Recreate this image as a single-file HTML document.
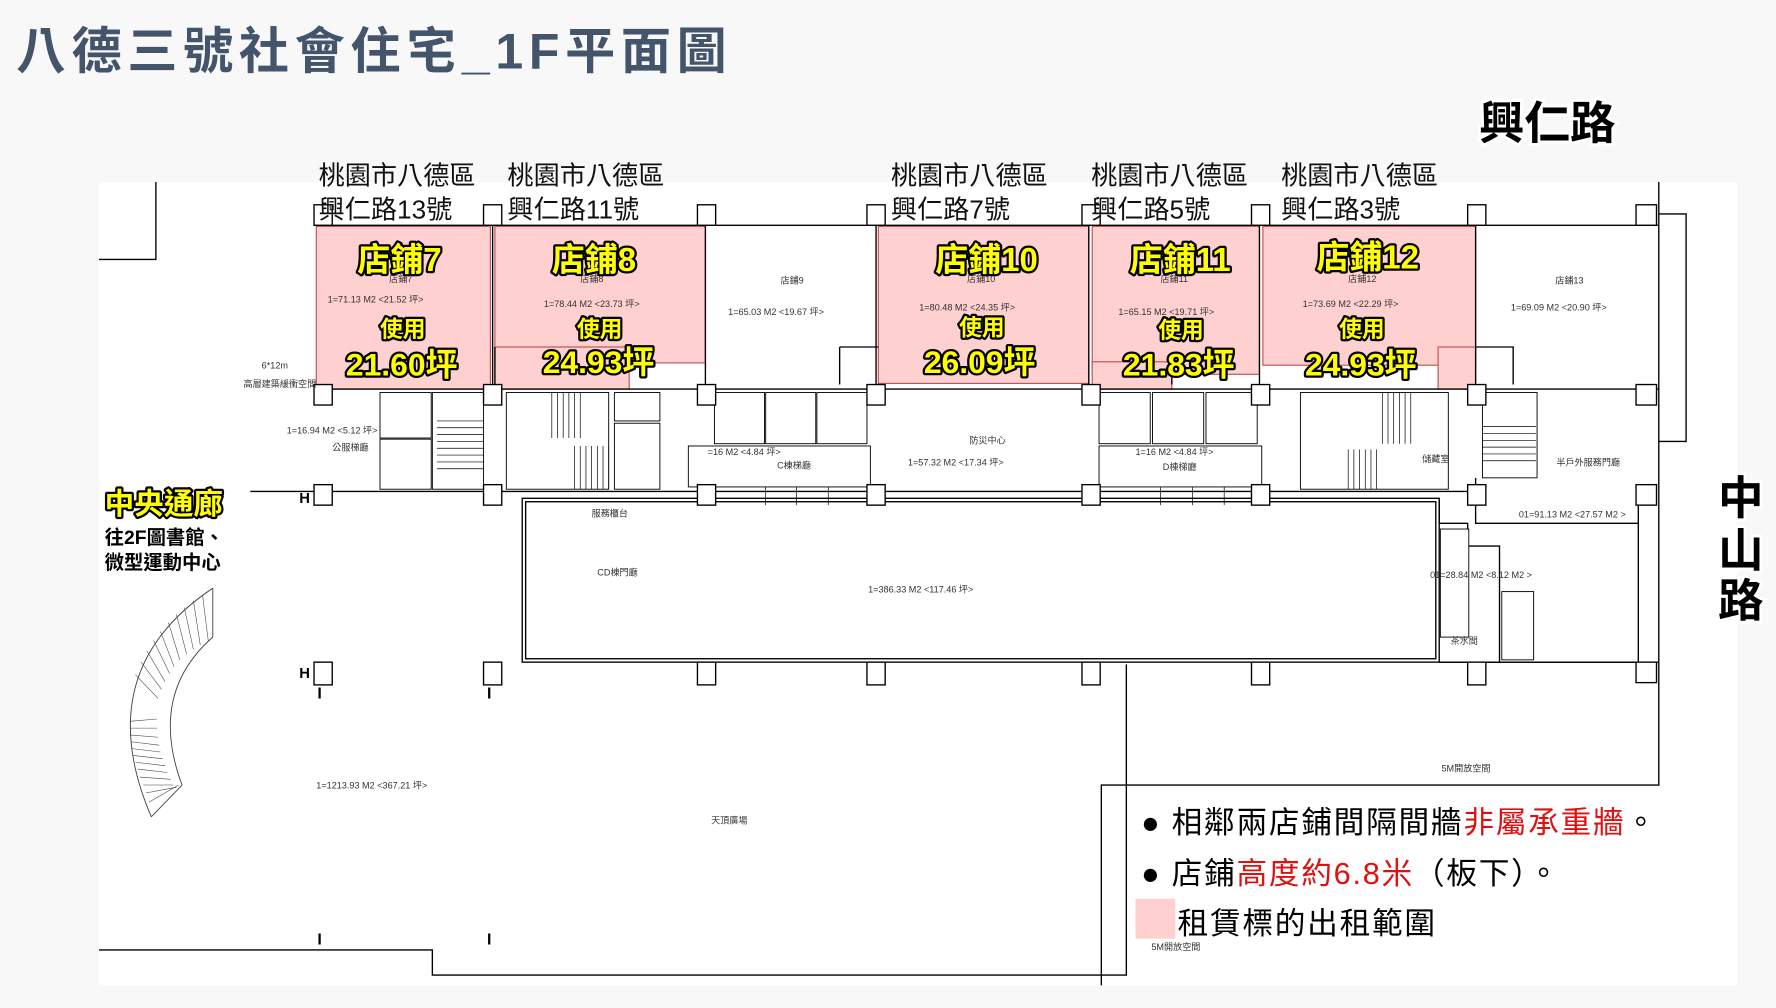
<!DOCTYPE html>
<html><head><meta charset="utf-8"><style>
html,body{margin:0;padding:0;background:#f8f8f8;}
svg{display:block}
.t{font-family:"Liberation Sans","Noto Sans CJK TC",sans-serif}
.y{font-family:"Liberation Sans","Noto Sans CJK TC",sans-serif;font-weight:bold;fill:#ffff00;stroke:#000;stroke-width:4;paint-order:stroke;stroke-linejoin:round}
.s{font-family:"Liberation Sans","Noto Sans CJK TC",sans-serif;font-size:8px;fill:#333}
</style></head><body>
<svg width="1776" height="1008" viewBox="0 0 1561 886" xmlns="http://www.w3.org/2000/svg">
<rect width="1561" height="886" fill="#f8f8f8"/>
<text x="14" y="60" class="t" font-size="44" font-weight="bold" fill="#44546a" letter-spacing="5">八德三號社會住宅_1F平面圖</text>
<rect x="87" y="160" width="1440" height="706" fill="#fff"/>
<g fill="#ffd0d0" stroke="#c0504d" stroke-width="1">
<rect x="278" y="199" width="153" height="143"/>
<rect x="435" y="199" width="185" height="120"/>
<rect x="435" y="305" width="118" height="37"/>
<rect x="772" y="199" width="185" height="138"/>
<rect x="960" y="199" width="147" height="130"/>
<rect x="960" y="318" width="70" height="24"/>
<rect x="1110" y="199" width="187" height="122"/>
<rect x="1264" y="305" width="33" height="37"/>
</g>
<g fill="none" stroke="#000" stroke-width="1.2">
<path d="M137 160V228H87"/>
<path d="M276 198H1458"/>
<path d="M1458 160V690H968V866"/>
<path d="M990 584V857H380V835H87"/>
<path d="M1458 188H1482V388H1458"/>
<path d="M620 198V338M770 198V338M957 198V338M1107 198V338M1297 198V338M433 198V342"/>
<path d="M276 342H1458M276 432H1297"/>
<rect x="459" y="438" width="806" height="144"/>
<rect x="462" y="441" width="800" height="138"/>
<path d="M1265 438V460H1290V480H1318V582H1265"/>
<path d="M1297 420V460H1440M1440 432V582H1265"/>
<path d="M1297 582H1458"/>
<path d="M738 305V338M738 305H772M1297 305H1330V338M1030 318V338M435 305V338"/>
<path d="M220 432H276"/>
</g>
<g fill="#fff" stroke="#000" stroke-width="0.8">
<rect x="334" y="345" width="45" height="40"/><rect x="334" y="386" width="45" height="44"/>
<rect x="380" y="345" width="45" height="85"/>
<rect x="445" y="345" width="90" height="85"/><rect x="540" y="345" width="40" height="25"/><rect x="540" y="372" width="40" height="58"/>
<rect x="628" y="345" width="44" height="45"/><rect x="673" y="345" width="44" height="45"/><rect x="718" y="345" width="44" height="45"/>
<rect x="605" y="392" width="160" height="36"/>
<rect x="966" y="345" width="45" height="45"/><rect x="1013" y="345" width="45" height="45"/><rect x="1060" y="345" width="45" height="45"/>
<rect x="966" y="392" width="143" height="36"/>
<rect x="1143" y="345" width="130" height="85"/><rect x="1303" y="345" width="48" height="75"/>
<rect x="1266" y="465" width="25" height="95"/><rect x="1320" y="520" width="28" height="60"/>
</g>
<g stroke="#000" stroke-width="0.6">
<path d="M384 370H425M384 376H425M384 382H425M384 388H425M384 394H425M384 400H425M384 406H425M384 412H425"/>
<path d="M485 345V385M490 345V385M495 345V385M500 345V385M505 345V385M510 345V385M505 392V430M510 392V430M515 392V430M520 392V430M525 392V430M530 392V430M535 392V430"/>
<path d="M1215 345V390M1220 345V390M1225 345V390M1230 345V390M1235 345V390M1240 345V390M1185 395V430M1190 395V430M1195 395V430M1200 395V430M1205 395V430M1210 395V430"/>
<path d="M1303 375H1350M1303 381H1350M1303 387H1350M1303 393H1350M1303 399H1350M1303 405H1350"/>
<path d="M673 428V444M700 428V444M728 428V444M1020 428V444M1048 428V444M1076 428V444"/>
</g>
<g fill="#fff" stroke="#000" stroke-width="1.2">
<rect x="276" y="180" width="16" height="18"/><rect x="425" y="180" width="16" height="18"/><rect x="613" y="180" width="16" height="18"/><rect x="762" y="180" width="16" height="18"/><rect x="951" y="180" width="16" height="18"/><rect x="1100" y="180" width="16" height="18"/><rect x="1290" y="180" width="16" height="18"/><rect x="1438" y="180" width="18" height="18"/>
<rect x="276" y="338" width="16" height="18"/><rect x="425" y="338" width="16" height="18"/><rect x="613" y="338" width="16" height="18"/><rect x="762" y="338" width="16" height="18"/><rect x="951" y="338" width="16" height="18"/><rect x="1100" y="338" width="16" height="18"/><rect x="1290" y="338" width="16" height="18"/><rect x="1438" y="338" width="18" height="18"/>
<rect x="276" y="426" width="16" height="18"/><rect x="425" y="426" width="16" height="18"/><rect x="613" y="426" width="16" height="18"/><rect x="762" y="426" width="16" height="18"/><rect x="951" y="426" width="16" height="18"/><rect x="1100" y="426" width="16" height="18"/><rect x="1290" y="426" width="16" height="18"/><rect x="1438" y="426" width="18" height="18"/>
<rect x="276" y="582" width="16" height="20"/><rect x="425" y="582" width="16" height="20"/><rect x="613" y="582" width="16" height="20"/><rect x="762" y="582" width="16" height="20"/><rect x="951" y="582" width="16" height="20"/><rect x="1100" y="582" width="16" height="20"/><rect x="1290" y="582" width="16" height="20"/><rect x="1438" y="582" width="18" height="18"/>
</g>
<g class="t" font-size="13" font-weight="bold"><text x="263" y="442">H</text><text x="263" y="596">H</text></g>
<g class="t" font-size="14" font-weight="bold"><text x="279" y="614">I</text><text x="428" y="614">I</text><text x="279" y="830">I</text><text x="428" y="830">I</text></g>
<g fill="none" stroke="#444" stroke-width="0.8">
<path d="M187 517 Q78 590 133 718"/>
<path d="M187 560 Q130 610 160 690"/>
<path d="M187 517V560M133 718L160 690"/>
<g stroke-width="0.5"><path d="M178 523L183 563M170 528L176 567M162 534L170 571M155 540L164 575M148 547L158 580M141 555L153 586M135 563L149 592M129 572L145 599M124 582L142 606M119 593L139 614M114 634L138 632M114 640L138 640M114 646L139 648M115 652L140 655M116 658L141 661M117 664L143 667M119 670L145 673M121 676L147 679M123 683L150 685M126 690L152 690M128 697L155 692M131 705L157 690"/></g>
</g>
<g class="t" font-size="23" fill="#111">
<text x="280" y="162">桃園市八德區</text><text x="280" y="192">興仁路13號</text>
<text x="446" y="162">桃園市八德區</text><text x="446" y="192">興仁路11號</text>
<text x="783" y="162">桃園市八德區</text><text x="783" y="192">興仁路7號</text>
<text x="959" y="162">桃園市八德區</text><text x="959" y="192">興仁路5號</text>
<text x="1126" y="162">桃園市八德區</text><text x="1126" y="192">興仁路3號</text>
</g>
<g class="s">
<text x="342" y="248">店鋪7</text><text x="288" y="266">1=71.13 M2 &lt;21.52 坪&gt;</text>
<text x="510" y="248">店鋪8</text><text x="478" y="270">1=78.44 M2 &lt;23.73 坪&gt;</text>
<text x="686" y="249">店鋪9</text><text x="640" y="277">1=65.03 M2 &lt;19.67 坪&gt;</text>
<text x="850" y="248">店鋪10</text><text x="808" y="273">1=80.48 M2 &lt;24.35 坪&gt;</text>
<text x="1020" y="248">店鋪11</text><text x="983" y="277">1=65.15 M2 &lt;19.71 坪&gt;</text>
<text x="1185" y="248">店鋪12</text><text x="1145" y="270">1=73.69 M2 &lt;22.29 坪&gt;</text>
<text x="1367" y="249">店鋪13</text><text x="1328" y="273">1=69.09 M2 &lt;20.90 坪&gt;</text>
<text x="230" y="324">6*12m</text><text x="214" y="340">高層建築緩衝空間</text>
<text x="252" y="381">1=16.94 M2 &lt;5.12 坪&gt;</text><text x="292" y="396">公服梯廳</text>
<text x="622" y="400">=16 M2 &lt;4.84 坪&gt;</text><text x="683" y="412">C棟梯廳</text>
<text x="852" y="390">防災中心</text><text x="798" y="409">1=57.32 M2 &lt;17.34 坪&gt;</text>
<text x="998" y="400">1=16 M2 &lt;4.84 坪&gt;</text><text x="1022" y="413">D棟梯廳</text>
<text x="1250" y="406">儲藏室</text><text x="1368" y="409">半戶外服務門廳</text>
<text x="520" y="454">服務櫃台</text><text x="525" y="506">CD棟門廳</text>
<text x="763" y="521">1=386.33 M2 &lt;117.46 坪&gt;</text>
<text x="1335" y="455">01=91.13 M2 &lt;27.57 M2 &gt;</text>
<text x="1257" y="508">01=28.84 M2 &lt;8.12 M2 &gt;</text>
<text x="1275" y="566">茶水間</text>
<text x="278" y="693">1=1213.93 M2 &lt;367.21 坪&gt;</text>
<text x="625" y="724">天頂廣場</text>
<text x="1267" y="678">5M開放空間</text><text x="1012" y="835">5M開放空間</text>
</g>
<g class="y" font-size="29">
<text x="314" y="238">店鋪7</text><text x="485" y="238">店鋪8</text><text x="822" y="238">店鋪10</text><text x="993" y="238">店鋪11</text><text x="1157" y="236">店鋪12</text>
</g>
<g class="y" font-size="20">
<text x="334" y="296">使用</text><text x="507" y="296">使用</text><text x="843" y="295">使用</text><text x="1018" y="297">使用</text><text x="1177" y="296">使用</text>
</g>
<g class="y" font-size="28">
<text x="304" y="330">21.60坪</text><text x="477" y="328">24.93坪</text><text x="812" y="328">26.09坪</text><text x="987" y="330">21.83坪</text><text x="1147" y="330">24.93坪</text>
</g>
<text x="92" y="452" class="y" font-size="26">中央通廊</text>
<g class="t" font-size="17" font-weight="bold" fill="#000"><text x="92" y="478">往2F圖書館、</text><text x="92" y="500">微型運動中心</text></g>
<text x="1300" y="122" class="t" font-size="40" font-weight="bold" fill="#000" stroke="#fff" stroke-width="5" paint-order="stroke">興仁路</text>
<g class="t" font-size="40" font-weight="bold" fill="#000" stroke="#fff" stroke-width="5" paint-order="stroke">
<text x="1510" y="452">中</text><text x="1510" y="498">山</text><text x="1510" y="542">路</text></g>
<g class="t" font-size="27" fill="#000" letter-spacing="1.5">
<text x="1003" y="732">● 相鄰兩店鋪間隔間牆<tspan fill="#e01010">非屬承重牆</tspan>。</text>
<text x="1003" y="777">● 店鋪<tspan fill="#e01010">高度約6.8米</tspan>（板下）。</text>
<text x="1035" y="821">租賃標的出租範圍</text>
</g>
<rect x="998" y="790" width="35" height="35" fill="#ffd0d0"/>
</svg>
</body></html>
